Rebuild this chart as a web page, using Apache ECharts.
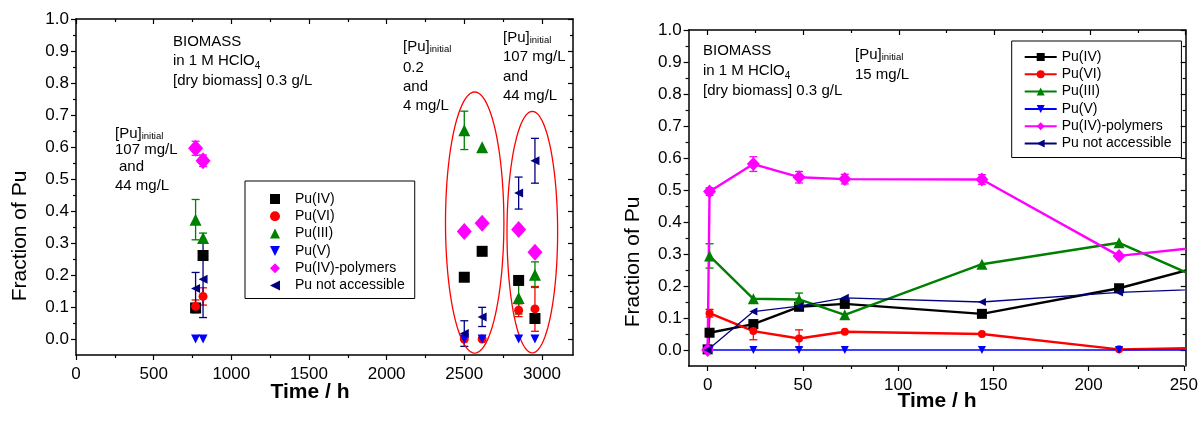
<!DOCTYPE html>
<html>
<head>
<meta charset="utf-8">
<script src="https://cdn.jsdelivr.net/npm/echarts@6/dist/echarts.min.js"></script>
<style>
  html, body { margin: 0; padding: 0; background: #fff; }
  #longterm { position: absolute; left: 0; top: 0; width: 600px; height: 425px; }
  #kinetics { position: absolute; left: 600px; top: 0; width: 601px; height: 425px; }
</style>
</head>
<body>
<div id="longterm"></div>
<div id="kinetics"></div>
<script>
// ---------- long-term contact (hours) ----------
const longTime        = [770, 818, 2500, 2615, 2850, 2955];
const longPuIV        = [0.097, 0.261, 0.193, 0.274, 0.183, 0.064];
const longPuVI        = [0.102, 0.133, 0.0, 0.0, 0.09, 0.094];
const longPuVIErr     = [0.02, 0.027, 0, 0, 0.02, 0.07];
const longPuIII       = [0.373, 0.316, 0.652, 0.599, 0.128, 0.201];
const longPuIIIErr    = [0.063, 0.015, 0.06, 0, 0.05, 0.04];
const longPuV         = [0, 0, 0, 0, 0, 0];
const longPolymer     = [0.596, 0.557, 0.336, 0.362, 0.342, 0.271];
const longPolymerErr  = [0.022, 0.018, 0, 0, 0, 0];
const longNotAcc      = [0.158, 0.187, 0.017, 0.069, 0.456, 0.557];
const longNotAccErr   = [0.05, 0.12, 0.04, 0.03, 0.05, 0.07];
// loops around the two later sampling groups: centre and half-axes in data units
const loopCenters = [[2567, 0.364], [2938, 0.334]];
const loopRadii   = [[188, 0.408], [163, 0.3775]];

// ---------- kinetics at 15 mg/L (hours) ----------
const kinTime        = [0, 1, 24, 48, 72, 144, 216, 288];
const kinPuIV        = [0.002, 0.054, 0.081, 0.135, 0.144, 0.113, 0.193, 0.306];
const kinPuVI        = [0, 0.115, 0.059, 0.036, 0.057, 0.050, 0.002, 0.009];
const kinPuVIErr     = [0, 0.012, 0.027, 0.027, 0, 0, 0, 0];
const kinPuIII       = [null, 0.294, 0.160, 0.158, 0.110, 0.268, 0.335, 0.146];
const kinPuIIIErr    = [0, 0.038, 0, 0.02, 0, 0, 0, 0];
const kinPuV         = [0, 0, 0, 0, 0, 0, 0, 0];
const kinPolymer     = [0, 0.495, 0.581, 0.540, 0.534, 0.533, 0.294, 0.340];
const kinPolymerErr  = [0, 0.012, 0.023, 0.018, 0.015, 0.015, 0, 0];
const kinNotAcc      = [0, null, 0.120, 0.137, 0.163, 0.150, 0.180, 0.196];

// ---------- ticks ----------
const fracTicks      = [0, 0.1, 0.2, 0.3, 0.4, 0.5, 0.6, 0.7, 0.8, 0.9, 1.0];
const fracMinor      = [0.05, 0.15, 0.25, 0.35, 0.45, 0.55, 0.65, 0.75, 0.85, 0.95];
const longTicks      = [0, 500, 1000, 1500, 2000, 2500, 3000];
const longMinor      = [250, 750, 1250, 1750, 2250, 2750];
const kinTicks       = [0, 50, 100, 150, 200, 250];
const kinMinor       = [25, 75, 125, 175, 225];

const speciesNames = ['Pu(IV)', 'Pu(VI)', 'Pu(III)', 'Pu(V)', 'Pu(IV)-polymers', 'Pu not accessible'];
const COLORS = { iv: '#000000', vi: '#ff0000', iii: '#008000', v: '#0000ff', poly: '#ff00ff', na: '#000080' };
const FONT = '"Liberation Sans", Arial, sans-serif';

const measureCtx = document.createElement('canvas').getContext('2d');
function textWidth(str, size) {
  measureCtx.font = size + 'px "Liberation Sans", Arial, sans-serif';
  return measureCtx.measureText(str).width;
}

function pairs(xs, ys) {
  const out = [];
  xs.forEach((x, i) => { if (ys[i] !== null && ys[i] !== undefined) out.push([x, ys[i]]); });
  return out;
}

function errorBars(name, xs, ys, es, color, cap) {
  const data = [];
  xs.forEach((x, i) => { if (ys[i] !== null && es[i] > 0) data.push([x, ys[i], es[i]]); });
  return {
    type: 'custom', name: name + ' error', silent: true, clip: true,
    xAxisIndex: 0, yAxisIndex: 0, data, encode: { x: 0, y: 1 },
    renderItem(params, api) {
      const x = api.value(0), y = api.value(1), e = api.value(2);
      const t = api.coord([x, y + e]), b = api.coord([x, y - e]);
      const st = { stroke: color, lineWidth: 1.3 };
      return {
        type: 'group', children: [
          { type: 'line', shape: { x1: t[0], y1: t[1], x2: b[0], y2: b[1] }, style: st },
          { type: 'line', shape: { x1: t[0] - cap, y1: t[1], x2: t[0] + cap, y2: t[1] }, style: st },
          { type: 'line', shape: { x1: b[0] - cap, y1: b[1], x2: b[0] + cap, y2: b[1] }, style: st }
        ]
      };
    }
  };
}

// frame axes: bottom/left carry labels, top/right mirror the ticks inward
function frame(rect, xMin, xMax, xMajor, xMinorVals, yMin, yMax) {
  const grid = [0, 1, 2, 3].map(() => Object.assign({ containLabel: false }, rect));
  const line = { show: true, onZero: false, lineStyle: { color: '#000', width: 1.5 } };
  const noLine = { show: false, onZero: false };
  const tick = (vals, len, inside) => ({ show: true, customValues: vals, length: len, inside, lineStyle: { color: '#000', width: 1.2 } });
  const base = (extra) => Object.assign({ type: 'value', splitLine: { show: false }, axisLabel: { show: false } }, extra);
  const xAxis = [
    base({ gridIndex: 0, position: 'bottom', min: xMin, max: xMax, axisLine: line, axisTick: tick(xMajor, 5, false),
      axisLabel: { show: true, customValues: xMajor, fontSize: 17, fontFamily: FONT, color: '#000', margin: 11,
        formatter: v => String(v) } }),
    base({ gridIndex: 1, position: 'top', min: xMin, max: xMax, axisLine: line, axisTick: tick(xMajor, 5, true) }),
    base({ gridIndex: 2, position: 'bottom', min: xMin, max: xMax, axisLine: noLine, axisTick: tick(xMinorVals, 3, false) }),
    base({ gridIndex: 3, position: 'top', min: xMin, max: xMax, axisLine: noLine, axisTick: tick(xMinorVals, 3, true) })
  ];
  const yAxis = [
    base({ gridIndex: 0, position: 'left', min: yMin, max: yMax, axisLine: line, axisTick: tick(fracTicks, 5, false),
      axisLabel: { show: true, customValues: fracTicks, fontSize: 17, fontFamily: FONT, color: '#000', margin: 7,
        formatter: v => v.toFixed(1) } }),
    base({ gridIndex: 1, position: 'right', min: yMin, max: yMax, axisLine: line, axisTick: tick(fracTicks, 5, true) }),
    base({ gridIndex: 2, position: 'left', min: yMin, max: yMax, axisLine: noLine, axisTick: tick(fracMinor, 3, false) }),
    base({ gridIndex: 3, position: 'right', min: yMin, max: yMax, axisLine: noLine, axisTick: tick(fracMinor, 3, true) })
  ];
  return { grid, xAxis, yAxis };
}

function txt(x, y, s, size, opts) {
  opts = opts || {};
  return {
    type: 'text', x, y, rotation: opts.rotation || 0, silent: true,
    style: {
      text: s, fill: '#000', font: (opts.bold ? 'bold ' : '') + size + 'px ' + FONT,
      align: opts.align || 'left', verticalAlign: 'middle',
      textAlign: opts.align || 'left', textVerticalAlign: 'middle'
    }
  };
}
// main text followed by a lowered small-print suffix
function withSub(x, y, main, sub, size, subSize, drop) {
  const w = textWidth(main, size);
  return [txt(x, y, main, size), txt(x + w, y + drop, sub, subSize)];
}

// legend markers (down- and left-pointing triangles drawn as paths)
const legendIcons = ['rect', 'circle', 'triangle', 'path://M0,0L10,0L5,10Z', 'diamond', 'path://M10,0L10,10L0,5Z'];

// ================= long-term chart =================
const longFrame = frame({ left: 76, top: 19, width: 497, height: 336 }, 0, 3200, longTicks, longMinor, -0.05, 1.0);

function scatter(name, ys, color, symbol, size, rotate) {
  return {
    type: 'scatter', name, xAxisIndex: 0, yAxisIndex: 0, data: pairs(longTime, ys),
    symbol, symbolSize: size, symbolRotate: rotate || 0,
    itemStyle: { color, opacity: 1 }, emphasis: { disabled: true }
  };
}

const longSeries = [
  scatter('Pu(IV)', longPuIV, COLORS.iv, 'rect', 11),
  errorBars('Pu(VI)', longTime, longPuVI, longPuVIErr, COLORS.vi, 4),
  scatter('Pu(VI)', longPuVI, COLORS.vi, 'circle', 9),
  errorBars('Pu(III)', longTime, longPuIII, longPuIIIErr, COLORS.iii, 4),
  scatter('Pu(III)', longPuIII, COLORS.iii, 'triangle', 12),
  scatter('Pu(V)', longPuV, COLORS.v, 'triangle', 9, 180),
  errorBars('Pu(IV)-polymers', longTime, longPolymer, longPolymerErr, COLORS.poly, 4),
  scatter('Pu(IV)-polymers', longPolymer, COLORS.poly, 'diamond', [15, 17]),
  errorBars('Pu not accessible', longTime, longNotAcc, longNotAccErr, COLORS.na, 4),
  scatter('Pu not accessible', longNotAcc, COLORS.na, 'triangle', 9, 90),
  {
    type: 'custom', name: 'groups', silent: true, clip: false, xAxisIndex: 0, yAxisIndex: 0,
    data: loopCenters.map((c, i) => [c[0], c[1], loopRadii[i][0], loopRadii[i][1]]),
    encode: { x: 0, y: 1 },
    renderItem(params, api) {
      const cx = api.value(0), cy = api.value(1), rx = api.value(2), ry = api.value(3);
      const pts = [];
      for (let k = 0; k < 96; k++) {
        const a = k / 96 * Math.PI * 2;
        pts.push(api.coord([cx + rx * Math.cos(a), cy + ry * Math.sin(a)]));
      }
      return { type: 'polygon', shape: { points: pts }, style: { fill: 'none', stroke: '#ff0000', lineWidth: 1.3 } };
    }
  }
];

const longGraphic = [].concat(
  [txt(173, 42, 'BIOMASS', 15)],
  withSub(173, 61, 'in 1 M HClO', '4', 15, 10, 5),
  [txt(173, 81, '[dry biomass] 0.3 g/L', 15)],
  withSub(115, 134, '[Pu]', 'initial', 15, 9.5, 2),
  [txt(115, 150, '107 mg/L', 15), txt(119, 167, 'and', 15), txt(115, 186, '44 mg/L', 15)],
  withSub(403, 47, '[Pu]', 'initial', 15, 9.5, 2),
  [txt(403, 68, '0.2', 15), txt(403, 87, 'and', 15), txt(403, 106, '4 mg/L', 15)],
  withSub(503, 38, '[Pu]', 'initial', 15, 9.5, 2),
  [txt(503, 57, '107 mg/L', 15), txt(503, 77, 'and', 15), txt(503, 96, '44 mg/L', 15)],
  [txt(20, 236, 'Fraction of Pu', 21, { align: 'center', rotation: Math.PI / 2 }),
   txt(310, 392, 'Time / h', 21, { align: 'center', bold: true })]
);

const longChart = echarts.init(document.getElementById('longterm'), null, { renderer: 'canvas' });
longChart.setOption({
  animation: false,
  backgroundColor: '#fff',
  grid: longFrame.grid, xAxis: longFrame.xAxis, yAxis: longFrame.yAxis,
  legend: {
    orient: 'vertical', left: 245, top: 181, padding: [11, 10, 6, 25],
    itemWidth: 10, itemHeight: 10, itemGap: 3.3, selectedMode: false,
    borderColor: '#000', borderWidth: 1, borderRadius: 0,
    textStyle: { fontSize: 14, fontFamily: FONT, color: '#000', lineHeight: 14, padding: [0, 0, 0, 10] },
    data: speciesNames.map((n, i) => ({ name: n, icon: legendIcons[i] }))
  },
  series: longSeries,
  graphic: { elements: longGraphic }
});

// ================= kinetics chart =================
const kinFrame = frame({ left: 88.6, top: 30, width: 497.1, height: 336 }, -10, 250, kinTicks, kinMinor, -0.05, 1.0);

function lineSeries(name, ys, color, symbol, size, width, rotate) {
  return {
    type: 'line', name, xAxisIndex: 0, yAxisIndex: 0, data: pairs(kinTime, ys),
    symbol, symbolSize: size, symbolRotate: rotate || 0, showSymbol: true, showAllSymbol: true,
    clip: true, connectNulls: true,
    lineStyle: { color, width }, itemStyle: { color, opacity: 1 }, emphasis: { disabled: true }
  };
}

const kinSeries = [
  lineSeries('Pu(IV)', kinPuIV, COLORS.iv, 'rect', 10, 2.4),
  errorBars('Pu(VI)', kinTime, kinPuVI, kinPuVIErr, COLORS.vi, 4),
  lineSeries('Pu(VI)', kinPuVI, COLORS.vi, 'circle', 8, 2.4),
  errorBars('Pu(III)', kinTime, kinPuIII, kinPuIIIErr, COLORS.iii, 4),
  lineSeries('Pu(III)', kinPuIII, COLORS.iii, 'triangle', 11, 2.4),
  lineSeries('Pu(V)', kinPuV, COLORS.v, 'triangle', 8, 1.3, 180),
  errorBars('Pu(IV)-polymers', kinTime, kinPolymer, kinPolymerErr, COLORS.poly, 4),
  lineSeries('Pu(IV)-polymers', kinPolymer, COLORS.poly, 'diamond', [13, 14], 2.4),
  lineSeries('Pu not accessible', kinNotAcc, COLORS.na, 'triangle', 8, 1.3, 90)
];

const kinGraphic = [].concat(
  [txt(103, 51, 'BIOMASS', 15)],
  withSub(103, 71, 'in 1 M HClO', '4', 15, 10, 5),
  [txt(103, 91, '[dry biomass] 0.3 g/L', 15)],
  withSub(255, 55, '[Pu]', 'initial', 15, 9.5, 2),
  [txt(255, 75, '15 mg/L', 15)],
  [txt(33, 262, 'Fraction of Pu', 21, { align: 'center', rotation: Math.PI / 2 }),
   txt(337, 401, 'Time / h', 21, { align: 'center', bold: true })]
);

const kinChart = echarts.init(document.getElementById('kinetics'), null, { renderer: 'canvas' });
kinChart.setOption({
  animation: false,
  backgroundColor: '#fff',
  grid: kinFrame.grid, xAxis: kinFrame.xAxis, yAxis: kinFrame.yAxis,
  legend: {
    orient: 'vertical', left: 411.7, top: 41, padding: [9, 10, 7, 12],
    itemWidth: 32, itemHeight: 10, itemGap: 3.3, selectedMode: false,
    borderColor: '#000', borderWidth: 1, borderRadius: 0,
    textStyle: { fontSize: 14, fontFamily: FONT, color: '#000', lineHeight: 14 },
    data: speciesNames
  },
  series: kinSeries,
  graphic: { elements: kinGraphic }
});
</script>
</body>
</html>
